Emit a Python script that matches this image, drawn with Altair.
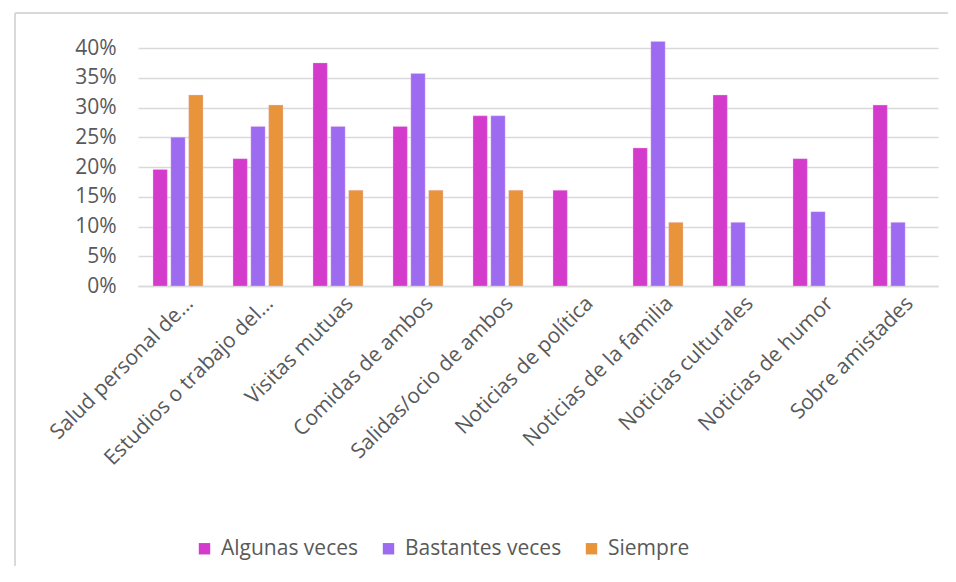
import altair as alt
import pandas as pd

categories = [
    "Salud personal de…", "Estudios o trabajo del…", "Visitas mutuas",
    "Comidas de ambos", "Salidas/ocio de ambos", "Noticias de política",
    "Noticias de la familia", "Noticias culturales", "Noticias de humor",
    "Sobre amistades",
]
series = ["Algunas veces", "Bastantes veces", "Siempre"]
algunas = [0.196, 0.214, 0.375, 0.268, 0.286, 0.161, 0.232, 0.321, 0.214, 0.304]
bastantes = [0.250, 0.268, 0.268, 0.357, 0.286, 0.0, 0.411, 0.107, 0.125, 0.107]
siempre = [0.321, 0.304, 0.161, 0.161, 0.161, 0.0, 0.107, 0.0, 0.0, 0.0]
colors = ["#D43BCD", "#9D6BF0", "#E8943A"]
y_ticks = [0, 0.05, 0.10, 0.15, 0.20, 0.25, 0.30, 0.35, 0.40]

rows = []
for s, vals in zip(series, [algunas, bastantes, siempre]):
    for c, v in zip(categories, vals):
        if v > 0:
            rows.append({"cat": c, "serie": s, "val": v})
df = pd.DataFrame(rows)

FONT = "Open Sans"
GREY = "#595959"
FS = 21

bars = alt.Chart(df).mark_bar(stroke="#F2C6F0", strokeWidth=0.6, strokeOpacity=0.6).encode(
    x=alt.X("cat:N", sort=categories, title=None,
            scale=alt.Scale(paddingInner=0.375, paddingOuter=0.1875),
            axis=alt.Axis(labelAngle=-45, labelAlign="right", labelBaseline="middle",
                          labelFontSize=FS, labelColor=GREY, labelFont=FONT,
                          labelPadding=14, labelOffset=12, ticks=False,
                          domainColor="#D9D9D9", domainWidth=1.5, labelLimit=400)),
    xOffset=alt.XOffset("serie:N", sort=series,
                        scale=alt.Scale(domain=series, paddingInner=0.2, paddingOuter=0.0)),
    y=alt.Y("val:Q", title=None,
            scale=alt.Scale(domain=[0, 0.4], nice=False, zero=True),
            axis=alt.Axis(format=".0%", values=y_ticks, labelFontSize=FS, labelColor=GREY,
                          labelFont=FONT, ticks=False, domain=False, labelPadding=22,
                          gridColor="#D9D9D9", gridWidth=1.5)),
    color=alt.Color("serie:N", sort=series,
                    scale=alt.Scale(domain=series, range=colors),
                    legend=alt.Legend(title=None, orient="none", direction="horizontal",
                                      legendX=56, legendY=490, symbolType="square",
                                      symbolSize=130, symbolStrokeWidth=0,
                                      labelFontSize=FS, labelColor=GREY, labelFont=FONT,
                                      columnPadding=19, labelOffset=6)),
)

frame_left = alt.Chart(df).mark_rule(color="#D9D9D9", strokeWidth=2).encode(
    x=alt.value(-123), y=alt.value(-35), y2=alt.value(540))
frame_top = alt.Chart(df).mark_rule(color="#D9D9D9", strokeWidth=2).encode(
    x=alt.value(-123), x2=alt.value(830), y=alt.value(-35))

chart = alt.layer(frame_left, frame_top, bars).properties(
    width=800, height=238,
    autosize=alt.AutoSizeParams(type="none"),
    padding={"left": 130, "top": 40, "right": 10, "bottom": 280},
).configure_view(stroke=None)

chart.save("out.html", embed_options={"renderer": "svg", "actions": False})
